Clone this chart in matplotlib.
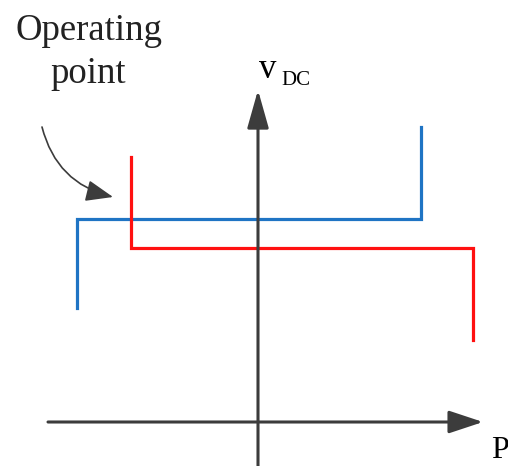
import matplotlib
matplotlib.use("Agg")
import matplotlib.pyplot as plt

# droop characteristics (P on x, v_DC on y), origin at the axes crossing
blue_p = [-181, -181, 163, 163]
blue_v = [114, 203, 203, 295]
red_p = [-127, -127, 215, 215]
red_v = [265, 174, 174, 82]

BLUE = "#1f74c4"
RED = "#ff1010"
AXC = "#3c3c3c"
SERIF = "Liberation Serif"

fig = plt.figure(figsize=(5.08, 4.66), dpi=100)
ax = fig.add_axes([0, 0, 1, 1])
ax.set_xlim(-258, 250)
ax.set_ylim(-44, 422)
ax.axis("off")

# axes with arrow heads
ax.annotate("", xy=(0, 332), xytext=(0, -44),
            arrowprops=dict(arrowstyle="-|>,head_length=1.95,head_width=0.55",
                            mutation_scale=12, lw=2.2, color=AXC,
                            shrinkA=0, shrinkB=0))
ax.annotate("", xy=(225, 0), xytext=(-210, 0),
            arrowprops=dict(arrowstyle="-|>,head_length=1.75,head_width=0.58",
                            mutation_scale=12, lw=2.2, color=AXC,
                            shrinkA=0, shrinkB=0))

ax.plot(blue_p, blue_v, color=BLUE, lw=2.3, solid_joinstyle="miter")
ax.plot(red_p, red_v, color=RED, lw=2.3, solid_joinstyle="miter")

# labels
ax.text(1, 344, "v", family=SERIF, fontsize=25, ha="left", va="baseline")
ax.text(23, 337, "DC", family=SERIF, fontsize=15, ha="left", va="baseline")
ax.text(233, -36, "P", family=SERIF, fontsize=23, ha="left", va="baseline")

ax.text(-169, 382, "Operating", family=SERIF, fontsize=26.5, ha="center",
        va="baseline", color="#222222")
ax.text(-170, 339, "point", family=SERIF, fontsize=26.5, ha="center",
        va="baseline", color="#222222")

ax.annotate("", xy=(-145, 225), xytext=(-216, 295),
            arrowprops=dict(arrowstyle="-|>,head_length=1.4,head_width=0.55",
                            mutation_scale=12, lw=1.2, color=AXC,
                            connectionstyle="arc3,rad=0.3",
                            shrinkA=0, shrinkB=0))

fig.savefig("out.png", dpi=100)
